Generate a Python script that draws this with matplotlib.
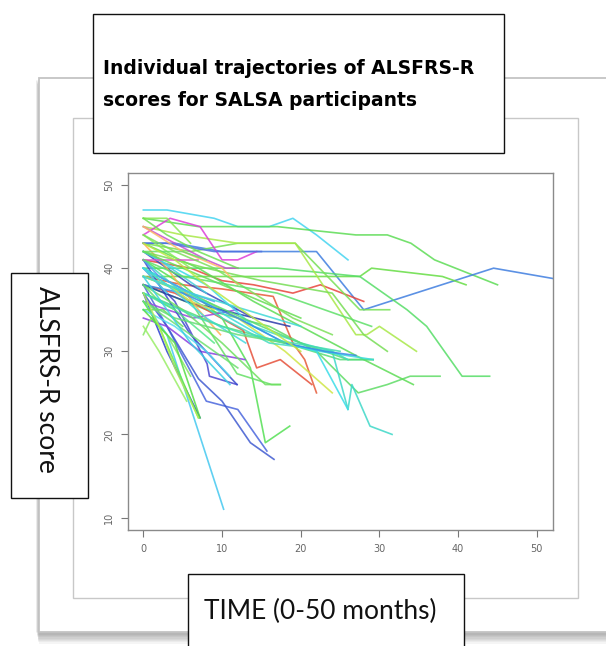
import matplotlib.pyplot as plt
from matplotlib.patches import Rectangle

W, H = 606, 646

# one entry per participant: months since baseline and ALSFRS-R score
subject_months = [
    [0, 3, 9, 12, 16, 19, 22, 26],
    [0, 7, 17, 27, 31, 34, 37, 45],
    [0, 4, 10, 16, 22, 28, 44.5, 53],
    [0, 6, 10, 14, 19, 22.5, 28],
    [0, 10, 20, 27.5, 29, 38, 41],
    [0, 8, 17, 27.5, 33.5, 36, 40.5, 44],
    [0, 6, 12, 19.3, 27.5, 31.3],
    [0, 5, 12, 19.3, 27, 28.4, 30, 34.7],
    [0, 8, 16, 22, 27.3, 31, 33.9, 37.7],
    [0, 10, 18, 25, 29.2],
    [0, 6, 14, 20, 24, 26, 26.5, 28.8, 31.6],
    [0, 4, 8, 12.7, 14.4, 17.4, 21.4],
    [0, 5, 10, 16.5, 19, 20.5, 22],
    [0, 6, 12, 18, 24],
    [0, 5, 10, 13.6, 15.5, 18.6],
    [0, 3, 8, 12, 15.7],
    [0, 3, 7, 10, 13.6, 16.6],
    [0, 3, 7.2],
    [0, 3, 10.2],
    [0, 3, 7.2, 12.9],
    [0, 3, 6.4, 11.9],
    [0, 4, 8.1, 8.4, 11.9],
    [0, 6, 11.9],
    [0, 3.4, 7.2, 10, 12, 14.4],
    [0, 4, 8, 10.5, 12],
    [0, 5.4, 18.6],
    [0, 6, 14],
    [0, 6, 11.9, 16.3, 17.4],
    [0, 8, 14, 18, 22, 26],
    [0, 7, 14, 22, 28, 34.3],
    [0, 8, 15, 20, 26, 29.2],
    [0, 5, 10, 15.5, 17.4],
    [0, 2, 7],
    [0, 5, 10, 16, 24, 26],
    [0, 3, 6],
    [0, 3, 7, 9.8],
    [0, 2.5, 5],
    [0, 1, 3, 6],
    [0, 3, 9, 15],
    [0, 8, 15, 21, 24, 28, 31],
    [0, 6, 11, 15.6, 22.4, 29.2],
    [0, 5, 12, 18, 23, 27],
    [0, 3, 6],
    [0, 2, 5, 8],
    [0, 3, 6, 9],
    [0, 2, 4],
    [0, 4, 9],
    [0, 3],
    [0, 6, 12],
    [0, 4, 8, 11],
    [0, 2, 6, 9],
    [0, 5, 10, 12],
    [0, 5, 8],
    [0, 4, 7.2],
    [0, 2, 5.5],
    [0, 3, 8, 13],
    [0, 7],
    [0, 5, 10, 15, 20],
    [0, 4, 9, 14, 19, 24],
    [0, 6, 13, 20],
    [0, 5, 11, 17, 23, 29],
    [0, 7, 13, 19, 25],
    [0, 4, 8, 14, 20],
    [0, 3, 7, 12],
    [0, 4, 8, 12, 18],
    [0, 2, 4, 7],
    [0, 3, 6, 11],
]
subject_scores = [
    [47, 47, 46, 45, 45, 46, 44, 41],
    [46, 45, 45, 44, 44, 43, 41, 38],
    [43, 43, 42, 42, 42, 35, 40, 38.6],
    [41, 40, 38.5, 38, 37, 38, 36],
    [39, 39, 39, 39, 40, 39, 38],
    [40, 40, 40, 39, 35, 33, 27, 27],
    [43, 42, 43, 43, 35, 35],
    [45, 44, 43, 43, 32, 32, 33, 30],
    [38, 35, 33, 30, 25, 26, 27, 27],
    [37, 33, 31, 29, 29],
    [40, 37, 33, 31, 30, 23, 26, 21, 20],
    [38, 37, 35, 32.5, 28, 29, 26],
    [39, 38, 37.5, 36.6, 31, 29, 25],
    [39, 37, 34, 30, 25],
    [41, 38, 34, 28, 19, 21],
    [38, 33, 24, 23, 18],
    [37, 33, 26.7, 24, 19, 17],
    [37, 30, 22],
    [36, 32, 11],
    [34, 33, 30, 29],
    [36, 35, 34, 35],
    [40, 36, 28.5, 27, 26],
    [41, 32, 26],
    [44, 46, 45, 41, 41, 42],
    [45, 43, 41, 40, 40],
    [38, 36, 33],
    [42, 38, 34],
    [40, 36, 27.3, 26, 26],
    [42, 38, 33, 31, 30, 23],
    [43, 40, 36, 32, 29, 26],
    [39, 36, 33, 31, 29, 29],
    [38, 35, 31, 26, 26],
    [36, 33, 22],
    [41, 37, 34, 31, 30, 29],
    [46, 46, 43],
    [43, 40, 35, 32],
    [35, 35, 33],
    [32, 34, 32, 27],
    [43, 43, 42, 42],
    [42, 40, 38.5, 37.5, 37, 32, 30],
    [40, 37, 34, 31.5, 30, 29],
    [38, 37, 34, 31, 30, 29.5],
    [44, 42, 40],
    [42, 41, 39, 37],
    [39, 38, 36, 35],
    [38, 36, 35],
    [37, 35, 31],
    [40, 37],
    [36, 32, 28],
    [35, 33, 30, 27],
    [41, 39, 37, 36],
    [45, 42, 40, 38],
    [42, 42, 41],
    [35, 31, 22],
    [33, 30, 24],
    [40, 38, 34, 31],
    [41, 41],
    [42, 40, 38, 36, 34],
    [44, 42, 40, 37, 34, 32],
    [39, 37, 35, 33],
    [41, 39, 38, 37, 35, 33],
    [37, 34, 32, 31, 30],
    [43, 41, 38, 34, 30],
    [46, 44, 42, 40],
    [36, 34, 33, 32, 31],
    [37, 33, 28, 22],
    [39, 35, 31, 26],
]
subject_colors = [
    "#44d4f0", "#5ddc55", "#3f7ee0", "#e8443c", "#66dd44", "#55dd66",
    "#77e055", "#a8e848", "#5fdc66", "#55dd77", "#3ed8c8", "#e6503a",
    "#e65a38", "#cfe646", "#55e055", "#4a66dd", "#3f5ad0", "#2b3fd0",
    "#44c8f0", "#8a3ee0", "#9a48e0", "#4a48d0", "#3a4acc", "#dc3ed8",
    "#c84ed0", "#2a3aa8", "#3a4abb", "#66e066", "#3adce8", "#5ddc55",
    "#55dd77", "#6ee060", "#66ee44", "#44dcc0", "#88e855", "#ffb050",
    "#66dd55", "#88e866", "#5070e0", "#77dd55", "#3adcdc", "#3a8ae8",
    "#88ee55", "#44ccdd", "#dde855", "#66dd66", "#55e888", "#55d8e8",
    "#6ee070", "#55ddee", "#5599ee", "#ffbb66", "#66dd66", "#55dd44",
    "#99ee66", "#44d8e0", "#dd55cc", "#66dd55", "#7de05a", "#40d8d8",
    "#5ee068", "#44ddb0", "#bbe844", "#6ee055", "#66dd77", "#b0ee55",
    "#3ad0e0",
]

x_ticks = [0, 10, 20, 30, 40, 50]
y_ticks = [10, 20, 30, 40, 50]


def px_rect(fig, x0, y0, x1, y1, **kw):
    # rectangle given in pixel coordinates measured from the top-left corner
    r = Rectangle((x0 / W, 1 - y1 / H), (x1 - x0) / W, (y1 - y0) / H,
                  transform=fig.transFigure, **kw)
    fig.add_artist(r)
    return r


fig = plt.figure(figsize=(W / 100, H / 100), dpi=100)
fig.patch.set_facecolor("white")

# slide frame with a soft drop shadow
for i in range(10):
    px_rect(fig, 39 - 3 + i * 0.3, 80 + i * 1.0, 640, 632 + i * 1.3,
            facecolor="#000000", edgecolor="none", alpha=0.04, zorder=-5)
px_rect(fig, 39, 78, 640, 632, facecolor="white", edgecolor="#c4c4c4",
        lw=1.3, zorder=-4)
px_rect(fig, 73, 118, 578, 598, facecolor="white", edgecolor="#c8c8c8",
        lw=1.0, zorder=-3)

ax = fig.add_axes([128 / W, 1 - 530 / H, (553 - 128) / W, (530 - 173) / H])
for months, scores, col in zip(subject_months, subject_scores, subject_colors):
    ax.plot(months, scores, color=col, lw=1.2, alpha=0.85,
            solid_joinstyle="round")

ax.set_xlim(-1.95, 52.05)
ax.set_ylim(8.5, 51.45)
ax.set_xticks(x_ticks)
ax.set_yticks(y_ticks)
ax.tick_params(direction="out", length=5, width=0.8, color="#777777",
               labelcolor="#666666", labelsize=7, pad=5)
for lab in ax.get_yticklabels():
    lab.set_rotation(90)
    lab.set_va("center")
for sp in ax.spines.values():
    sp.set_color("#8a8a8a")
    sp.set_linewidth(1.0)

# overlaid text boxes
px_rect(fig, 93, 14, 504, 153, facecolor="white", edgecolor="#111111",
        lw=1.0, zorder=5)
fig.text(103 / W, 1 - 68 / H, "Individual trajectories of ALSFRS-R",
         fontsize=13.5, fontweight="bold", family="DejaVu Sans",
         ha="left", va="center", zorder=6)
fig.text(103 / W, 1 - 100 / H, "scores for SALSA participants",
         fontsize=13.5, fontweight="bold", family="DejaVu Sans",
         ha="left", va="center", zorder=6)

px_rect(fig, 11, 273, 88, 498, facecolor="white", edgecolor="#111111",
        lw=1.0, zorder=5)
fig.text(46 / W, 1 - 379 / H, "ALSFRS-R score", fontsize=19,
         family="Lato", color="#111111", rotation=270,
         ha="center", va="center", zorder=6)

px_rect(fig, 188, 574, 464, 660, facecolor="white", edgecolor="#111111",
        lw=1.0, zorder=5)
fig.text(320 / W, 1 - 611 / H, "TIME (0-50 months)", fontsize=19,
         family="Lato", color="#111111",
         ha="center", va="center", zorder=6)

fig.savefig("out.png", dpi=100)
